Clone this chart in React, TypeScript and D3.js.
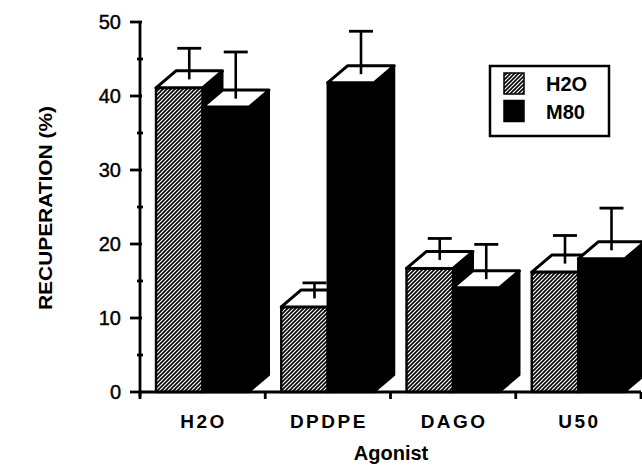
import React from 'react';
import * as d3 from 'd3';

const agonists = ['H2O', 'DPDPE', 'DAGO', 'U50'];
const seriesNames = ['H2O', 'M80'];
const h2oValues = [41.1, 11.5, 16.7, 16.2];
const h2oErrors = [4.2, 2.1, 2.9, 3.8];
const m80Values = [38.5, 41.8, 14.1, 18.0];
const m80Errors = [6.3, 5.8, 4.7, 5.7];
const yTicks = [0, 10, 20, 30, 40, 50];
const yMinorTicks = [5, 15, 25, 35, 45];

const W = 642;
const H = 467;
const FONT = "'Liberation Sans', Arial, Helvetica, sans-serif";

const App = () => {
  const x = d3.scaleBand().domain(agonists).range([140, 641]);
  const xs = d3.scaleBand().domain(seriesNames).range([16, 109]);
  const y = d3.scaleLinear().domain([0, 50]).range([392, 22]);
  const dx = 20;
  const dy = -17;
  const y0 = y(0);

  const series = [
    { name: 'H2O', values: h2oValues, errors: h2oErrors, fill: 'url(#hatch)' },
    { name: 'M80', values: m80Values, errors: m80Errors, fill: '#000' },
  ];

  const bars = agonists.map((a, i) => (
    <g key={a}>
      {series.map(s => {
        const x0 = (x(a) as number) + (xs(s.name) as number);
        const x1 = x0 + xs.bandwidth();
        const yt = y(s.values[i]);
        const cx = (x0 + x1) / 2 + dx / 2;
        const cy = yt + dy / 2;
        const ey = cy - (y0 - y(s.errors[i]));
        const side = [[x1, yt], [x1 + dx, yt + dy], [x1 + dx, y0 + dy], [x1, y0]];
        const top = [[x0, yt], [x0 + dx, yt + dy], [x1 + dx, yt + dy], [x1, yt]];
        return (
          <g key={s.name}>
            <polygon points={side.join(' ')} fill="#000" stroke="#000" strokeWidth={2} strokeLinejoin="round" />
            <rect x={x0} y={yt} width={x1 - x0} height={y0 - yt} fill={s.fill} stroke="#000" strokeWidth={2.4} />
            <polygon points={top.join(' ')} fill="#fff" stroke="#000" strokeWidth={3} strokeLinejoin="round" />
            <line x1={cx} x2={cx} y1={cy} y2={ey} stroke="#000" strokeWidth={2.6} />
            <line x1={cx - 12} x2={cx + 12} y1={ey} y2={ey} stroke="#000" strokeWidth={2.8} />
          </g>
        );
      })}
    </g>
  ));

  const bounds = [...agonists.map(a => x(a) as number), 641];

  return (
    <div style={{ position: 'fixed', left: 0, top: 0 }}>
      <svg width={W} height={H} style={{ display: 'block', background: '#fff' }} fontFamily={FONT}>
        <defs>
          <pattern id="hatch" patternUnits="userSpaceOnUse" width={4} height={4}>
            <rect width={4} height={4} fill="#fff" />
            <path d="M-1,1 l2,-2 M0,4 l4,-4 M3,5 l2,-2" stroke="#000" strokeWidth={1.6} />
          </pattern>
        </defs>

        {bars}

        {/* y axis */}
        <line x1={140} x2={140} y1={y(50) - 1} y2={y0 + 5} stroke="#000" strokeWidth={2.8} />
        {yTicks.map(t => (
          <g key={t}>
            <line x1={130} x2={142} y1={y(t)} y2={y(t)} stroke="#000" strokeWidth={2.8} />
            <text x={121} y={y(t) + 7} textAnchor="end" fontSize={20} stroke="#000" strokeWidth={0.4}>{t}</text>
          </g>
        ))}
        {yMinorTicks.map(t => (
          <line key={t} x1={137} x2={143} y1={y(t)} y2={y(t)} stroke="#000" strokeWidth={2.8} />
        ))}

        {/* x axis */}
        <line x1={139} x2={641} y1={y0} y2={y0} stroke="#000" strokeWidth={2.8} />
        {bounds.map((b, i) => (
          <line key={i} x1={b} x2={b} y1={y0} y2={y0 + 7} stroke="#000" strokeWidth={2.8} />
        ))}
        {agonists.map(a => (
          <text key={a} x={(x(a) as number) + x.bandwidth() / 2 + 1} y={428} textAnchor="middle"
            fontSize={19} fontWeight="bold" letterSpacing={2.5}>{a}</text>
        ))}

        <text x={391} y={460} textAnchor="middle" fontSize={20} fontWeight="bold">Agonist</text>
        <text transform="translate(52,208) rotate(-90)" textAnchor="middle" fontSize={19} fontWeight="bold"
          textLength={204} lengthAdjust="spacingAndGlyphs">RECUPERATION (%)</text>

        {/* legend */}
        <rect x={490} y={66} width={119} height={70} fill="#fff" stroke="#000" strokeWidth={2.5} />
        {series.map((s, i) => (
          <g key={s.name}>
            <rect x={504} y={73 + i * 27.5} width={20} height={21} fill={s.fill} stroke="#000" strokeWidth={1.5} />
            <text x={546} y={91 + i * 28} fontSize={20} fontWeight="bold">{s.name}</text>
          </g>
        ))}
      </svg>
    </div>
  );
};

export default App;
